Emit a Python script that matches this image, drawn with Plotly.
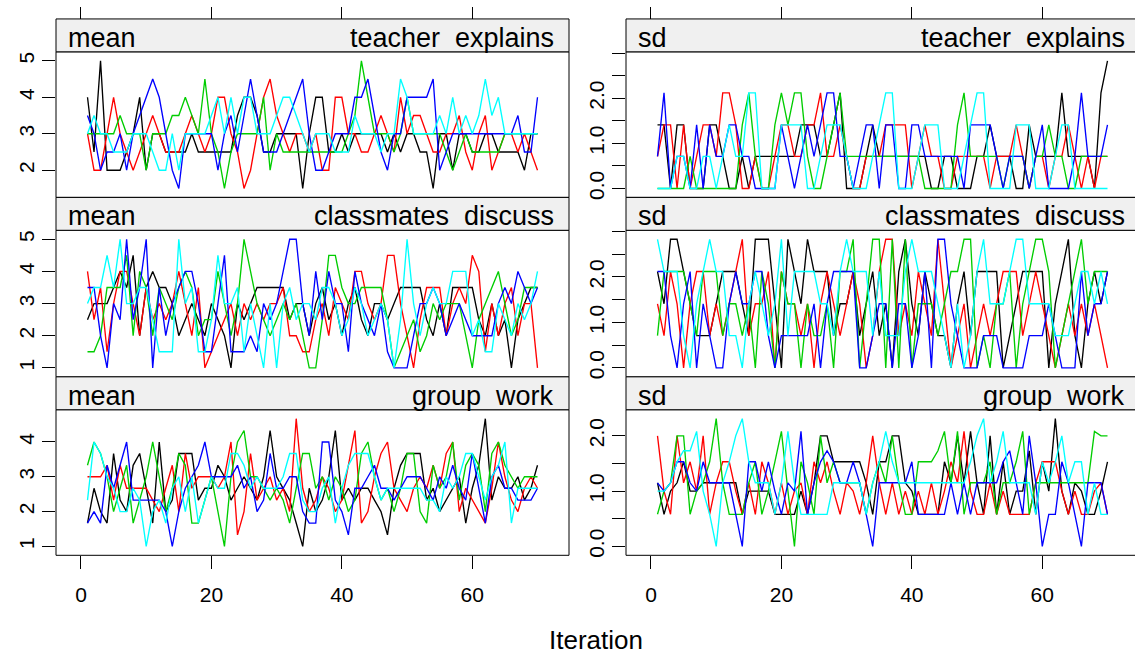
import plotly.graph_objects as go

# ---------------- data ----------------
iterations = list(range(1, 71))
chain_colors = ["#000000", "#FF0000", "#00CD00", "#0000FF", "#00FFFF"]
stat_labels = ["mean", "sd"]
var_labels = ["teacher\u00a0\u00a0explains", "classmates\u00a0\u00a0discuss", "group\u00a0\u00a0work"]
x_tick_vals = [0, 20, 40, 60]

te_mean = [
    [4, 2.5, 5, 2, 2, 2, 2.5, 3, 4, 2, 3, 3, 2.5, 2.5, 2.5, 2.5, 3, 2.5, 2.5, 2.5,
     2.5, 2.5, 2.5, 3.5, 4, 4, 3.5, 2.5, 2.5, 3, 3, 3, 3, 1.5, 3, 4, 4, 2.5, 2.5, 3,
     2.5, 3, 3, 3, 3, 3, 2.5, 3, 2.5, 3, 3, 2.5, 2.5, 1.5, 3, 3, 2, 3, 3, 2.5,
     2.5, 3, 3, 2.5, 2.5, 2.5, 2.5, 2, 3, 3],
    [3, 2, 2, 3, 4, 3, 2.5, 2, 2.5, 3, 3.5, 3, 2.5, 2.5, 2.5, 3, 3.5, 3, 2.5, 3,
     4, 4, 3, 2.5, 1.5, 2, 3, 4, 4.5, 3.5, 3, 2.5, 3, 3, 2.5, 3, 2, 2, 4, 4,
     3, 3, 2.5, 2.5, 3, 3.5, 3, 2.5, 4, 3, 3.5, 3.5, 3, 2.5, 2.5, 3, 3, 3.5, 2.5, 2,
     3, 3.5, 2, 2.5, 3, 3, 2.5, 3, 2.5, 2],
    [3, 3, 3, 3, 3, 3.5, 3, 3, 3, 2, 3, 3, 3, 3.5, 3.5, 4, 3.5, 3, 4.5, 3,
     2.5, 1.5, 2.5, 3, 3, 3, 3, 4, 2, 3, 2.5, 2.5, 2.5, 2.5, 2.5, 2.5, 2.5, 2.5, 2.5, 2.5,
     3, 3.5, 5, 4, 3, 3, 3, 2.5, 3, 4, 3, 3, 3, 3, 3, 2.5, 2, 2.5, 3, 2.5,
     2.5, 2.5, 2.5, 2.5, 3, 3, 3, 3, 3, 3],
    [3.5, 3, 2, 2.5, 2.5, 3, 2, 3, 3.5, 4, 4.5, 4, 3, 2, 1.5, 3, 3, 3, 3, 3,
     2, 3, 3.5, 2.5, 3.5, 4.5, 3.5, 2.5, 2.5, 2.5, 3, 3.5, 4, 4.5, 3, 2, 2, 2.5, 3, 3,
     3, 4, 4, 4.5, 3.5, 2.5, 2, 3, 3, 4, 4, 4, 4, 4.5, 2, 2.5, 3, 3, 3, 3,
     3, 3, 3, 3, 3, 3, 3.5, 2.5, 2.5, 4],
    [3, 3.5, 3, 3, 2.5, 2.5, 2.5, 3, 3, 3, 2.5, 2, 2, 3, 2, 3, 3, 3, 3, 3.5,
     4, 3, 4, 3, 4, 4, 3, 3, 3, 3.5, 4, 4, 3.5, 3, 2.5, 3, 3, 3, 2.5, 2.5,
     2.5, 3.5, 3, 3, 3, 2.5, 3, 3, 4.5, 4, 3, 3, 3, 3, 3.5, 3, 4, 3, 3.5, 3,
     3.5, 4.5, 3.5, 4, 3, 3, 3, 3, 3, 3],
]

te_sd = [
    [1.41, 1.41, 0, 1.41, 1.41, 0, 0, 0, 1.41, 1.41, 0.71, 0, 0, 0.71, 0, 0.71, 0.71, 0.71, 0.71, 0.71,
     0.71, 0.71, 1.41, 1.41, 1.41, 0.71, 0.71, 1.41, 2.12, 0, 0, 0, 0.71, 1.41, 0.71, 0.71, 0.71, 0.71, 0.71, 0.71,
     0.71, 0.71, 0, 0, 0.71, 0.71, 0, 0, 0, 0.71, 0.71, 1.41, 0.71, 0.71, 0.71, 0, 0, 1.41, 0.71, 0.71,
     0.71, 0.71, 2.12, 0.71, 0.71, 0.71, 0.71, 0, 2.12, 2.83],
    [0.71, 1.41, 1.41, 0, 1.41, 0, 0.71, 1.41, 1.41, 0.71, 2.12, 2.12, 1.41, 0, 0, 0.71, 0, 0, 0.71, 1.41,
     1.41, 0.71, 0.71, 1.41, 1.41, 2.12, 0.71, 0.71, 1.41, 0.71, 0, 0, 0.71, 0.71, 0.71, 1.41, 1.41, 1.41, 1.41, 0,
     0.71, 1.41, 0.71, 0.71, 0, 0, 0.71, 0.71, 0.71, 0.71, 0.71, 0, 0.71, 0.71, 0.71, 1.41, 0.71, 0, 0.71, 0.71,
     0, 0.71, 0.71, 1.41, 0.71, 0, 0.71, 0, 0.71, 0.71],
    [0, 0, 0, 0, 0, 0.71, 0, 0, 0, 0, 0, 0, 0, 1.41, 2.12, 0.71, 0, 0, 1.41, 2.12,
     1.41, 2.12, 2.12, 0.71, 0, 0, 0.71, 1.41, 2.12, 0.71, 0.71, 0.71, 0.71, 0.71, 0.71, 0.71, 0.71, 0.71, 0.71, 0.71,
     0.71, 0, 0, 0, 0, 0, 1.41, 2.12, 0.71, 0.71, 0.71, 0.71, 0.71, 0, 0.71, 0.71, 0.71, 0, 0.71, 0.71,
     1.41, 0.71, 0.71, 0, 0, 0.71, 0.71, 0.71, 0.71, 0.71],
    [0.71, 2.12, 0, 0.71, 0.71, 0, 1.41, 0, 1.41, 0.71, 0.71, 1.41, 1.41, 0.71, 0.71, 0, 0, 0, 0, 1.41,
     0.71, 0, 0.71, 1.41, 0.71, 1.41, 2.12, 2.12, 0.71, 0.71, 0, 0.71, 1.41, 1.41, 0, 1.41, 1.41, 0, 0, 1.41,
     1.41, 0.71, 0.71, 0.71, 0.71, 0.71, 0.71, 0, 1.41, 1.41, 1.41, 1.41, 0.71, 0, 0.71, 0.71, 0.71, 0, 0.71, 1.41,
     0, 0, 0, 0, 0.71, 2.12, 0.71, 0.71, 0.71, 1.41],
    [0, 0, 0, 0.71, 0.71, 0, 0, 0.71, 0.71, 0, 0.71, 1.41, 0.71, 0.71, 2.12, 2.12, 0, 0, 0, 1.41,
     1.41, 1.41, 1.41, 0, 0, 0.71, 1.41, 1.41, 1.41, 0.71, 0, 0, 0, 0.71, 1.41, 2.12, 2.12, 0, 0, 0,
     0.71, 1.41, 1.41, 1.41, 0, 0, 0, 0.71, 1.41, 2.12, 2.12, 0, 0, 0, 0, 1.41, 1.41, 1.41, 0, 0,
     0, 0.71, 1.41, 1.41, 0, 0, 0, 0, 0, 0],
]

cd_mean = [
    [2.5, 3, 3, 3, 3.5, 4, 3.5, 4.5, 2, 3.5, 4, 3.5, 3.5, 3, 2, 2.5, 3, 2.5, 2, 3,
     2.5, 2, 1, 3, 2.5, 3, 3.5, 3.5, 3.5, 3.5, 3.5, 2.5, 3, 3, 2, 3, 3.5, 2.5, 3, 2,
     3, 3.5, 2.5, 2, 3, 3, 2.5, 3, 3.5, 3.5, 3.5, 3.5, 2.5, 2, 3, 2, 3.5, 3.5, 3.5, 3.5,
     2.5, 2, 3, 2, 2.5, 1, 2.5, 3, 3.5, 3.5],
    [4, 2.5, 3.5, 1.5, 3, 4, 4, 3, 2, 3.5, 2.5, 3, 2.5, 3, 4, 3, 2, 3.5, 1, 1.5,
     2, 2.5, 3, 2, 3, 2.5, 3, 2.5, 3, 3, 3.5, 2, 2, 1.5, 1.5, 2.5, 3, 2, 3.5, 3,
     2.5, 4, 4, 3, 2.5, 3, 4.5, 4.5, 3, 2, 1, 2.5, 3.5, 3.5, 3.5, 2, 3, 3.5, 3, 4.5,
     4, 1.5, 3, 2, 3, 3.5, 2, 3, 3, 1],
    [1.5, 1.5, 2, 3.5, 3.5, 3.5, 4.5, 2, 4, 3.5, 2, 3.5, 3, 2.5, 3.5, 4, 3.5, 2, 2.5, 2.5,
     4, 3, 2, 3, 5, 4, 3, 2.5, 2, 2.5, 3, 2.5, 3, 2, 1, 1, 2.5, 4.5, 4.5, 3.5,
     3, 3, 3.5, 3.5, 3.5, 3.5, 2.5, 1, 1.5, 2, 2.5, 1.5, 2, 3, 2.5, 3, 3, 3, 2, 1,
     2.5, 3, 3.5, 4, 3, 2, 2.5, 3.5, 3.5, 3.5],
    [3.5, 3.5, 2, 1, 3, 2.5, 5, 2.5, 3.5, 5, 1, 3.5, 2, 3, 3.5, 4, 4, 3, 1.5, 1.5,
     3, 4.5, 1.5, 1.5, 1.5, 2, 1.5, 3, 2.5, 3, 4, 5, 5, 3, 2, 4, 2.5, 4, 3, 3,
     1.5, 4, 3, 2.5, 2, 3, 1.5, 1, 1, 1, 2, 3, 3, 3.5, 3, 2, 2.5, 3, 2.5, 2,
     2, 2, 2, 3, 3.5, 3, 4, 3.5, 3, 3.5],
    [3, 3.5, 3.5, 4.5, 3.5, 5, 3, 3, 3.5, 3.5, 2.5, 1.5, 1.5, 1.5, 5, 3, 3.5, 1.5, 1.5, 2.5,
     4.5, 3, 3, 3.5, 1.5, 3, 2, 1, 3, 1, 3, 3.5, 2.5, 3, 3, 2.5, 3.5, 3.5, 3, 2,
     2.5, 3.5, 3, 2, 2.5, 3, 2.5, 1, 2.5, 5, 3, 2, 3, 3.5, 3, 3, 4, 4, 4, 2,
     2.5, 1.5, 1.5, 3, 2.5, 2, 3, 2.5, 3, 4],
]

cd_sd = [
    [2.12, 1.41, 2.83, 2.83, 2.12, 1.41, 0.71, 0.71, 0.71, 1.41, 2.12, 2.12, 2.12, 1.41, 0.71, 2.83, 2.83, 2.83, 1.41, 0,
     2.83, 2.12, 1.41, 2.83, 2.12, 2.12, 2.12, 0.71, 1.41, 1.41, 2.12, 0.71, 1.41, 2.12, 0.71, 1.41, 0, 2.12, 2.83, 1.41,
     0.71, 2.12, 1.41, 0.71, 0.71, 0, 1.41, 2.12, 0.71, 2.12, 2.12, 2.12, 2.12, 0, 0.71, 1.41, 2.12, 2.12, 2.12, 2.12,
     0, 1.41, 2.12, 2.83, 0.71, 0, 1.41, 2.12, 1.41, 2.12],
    [1.41, 0.71, 2.12, 1.41, 0, 1.41, 2.12, 2.12, 0.71, 1.41, 0.71, 1.41, 2.12, 2.83, 0.71, 1.41, 1.41, 2.12, 0, 2.12,
     1.41, 1.41, 0.71, 1.41, 0, 1.41, 2.12, 1.41, 0.71, 1.41, 2.12, 1.41, 0, 0.71, 2.12, 2.83, 2.83, 0.71, 1.41, 0.71,
     2.12, 1.41, 0.71, 2.83, 1.41, 0, 0.71, 1.41, 0, 0.71, 1.41, 0.71, 1.41, 2.12, 2.12, 2.12, 0.71, 1.41, 2.12, 1.41,
     0.71, 0, 0.71, 1.41, 0.71, 1.41, 0.71, 1.41, 0.71, 0],
    [0.71, 2.12, 2.12, 2.12, 2.12, 1.41, 0.71, 2.12, 2.12, 2.12, 0.71, 1.41, 1.41, 0.71, 1.41, 0, 2.12, 1.41, 0, 2.12,
     1.41, 1.41, 0, 1.41, 0.71, 0.71, 1.41, 0, 2.12, 2.12, 2.83, 0, 1.41, 2.83, 2.83, 0, 2.83, 0, 2.83, 0,
     1.41, 1.41, 1.41, 0.71, 1.41, 2.12, 2.12, 2.83, 2.83, 0, 0.71, 0, 1.41, 1.41, 2.12, 0, 1.41, 2.12, 2.83, 2.83,
     2.12, 0, 0.71, 1.41, 2.12, 2.83, 1.41, 2.12, 2.12, 2.12],
    [2.12, 2.12, 0.71, 0, 1.41, 2.12, 0, 1.41, 0.71, 0, 0, 1.41, 2.12, 1.41, 1.41, 2.12, 2.12, 0.71, 0, 0.71,
     0.71, 0.71, 0.71, 0.71, 1.41, 0, 1.41, 2.12, 2.12, 2.12, 2.12, 0, 0, 0.71, 1.41, 1.41, 0, 1.41, 1.41, 0,
     0.71, 2.12, 0, 2.83, 2.83, 1.41, 0.71, 0, 0, 0, 0.71, 0.71, 0.71, 0, 0, 0, 0, 0.71, 0.71, 0.71,
     1.41, 0.71, 0, 0, 0, 2.12, 0.71, 1.41, 1.41, 2.12],
    [2.83, 2.12, 2.12, 2.12, 0.71, 0, 1.41, 2.12, 2.83, 2.12, 2.12, 0.71, 0.71, 0, 1.41, 2.12, 1.41, 0.71, 1.41, 2.83,
     0.71, 2.12, 2.12, 2.12, 2.12, 1.41, 1.41, 0.71, 2.12, 2.83, 2.12, 2.12, 2.12, 0.71, 2.12, 0.71, 0.71, 0.71, 2.12, 2.83,
     2.12, 2.12, 2.12, 1.41, 0.71, 0, 1.41, 0, 0.71, 2.12, 2.83, 1.41, 1.41, 1.41, 2.12, 2.83, 2.83, 1.41, 1.41, 1.41,
     1.41, 0.71, 0.71, 0.71, 1.41, 2.12, 2.12, 1.41, 2.12, 1.41],
]

gw_mean = [
    [1.67, 2.67, 2, 1.67, 3.67, 2.33, 2, 3.33, 3.67, 2.67, 1.67, 4, 2, 2.33, 3.67, 3.67, 3.67, 2.33, 2.67, 2.67,
     3.33, 3, 2.33, 2.67, 3, 2.67, 2.33, 3, 4.33, 3, 2.67, 2.33, 1.67, 1, 2.67, 2, 2.33, 3, 4.33, 2.33,
     2.67, 2.33, 2.67, 2.67, 2.33, 2, 1.33, 2.67, 3.33, 3.67, 3.67, 3.67, 2.33, 2.67, 2, 2.33, 2.67, 3, 1.67, 2.67,
     3.33, 4.67, 2.33, 3, 2.67, 2.67, 3, 2.33, 2.67, 3.33],
    [3, 3, 3, 3.33, 2.33, 3.33, 2.67, 2.67, 2.67, 2.67, 2.33, 2, 2.67, 3.33, 2, 3.67, 2.67, 3, 3, 3,
     2.67, 3, 4, 1.33, 2, 3.67, 2.33, 2.67, 3, 2.33, 2.67, 2, 4.67, 2.67, 2, 2.33, 3, 2.67, 2, 2.33,
     3.33, 4.33, 1.67, 2, 3, 3.67, 4, 2.67, 2.33, 2, 2.67, 3, 2.67, 3.33, 2.67, 3.67, 4, 2, 2.67, 2.33,
     2, 1.67, 2.67, 4, 3, 2.33, 2, 2.67, 3, 2.67],
    [3.33, 4, 3.67, 3, 2, 2.67, 3.33, 1.67, 2.33, 3, 4, 3, 2, 2.67, 3.67, 3.33, 1.67, 1.67, 2.33, 3,
     2, 1, 3, 4, 4.33, 3, 3, 2.67, 2.33, 2.67, 2.33, 1.67, 2.67, 3.67, 3.67, 2.67, 3, 2.33, 3, 2.67,
     2, 2.33, 3.67, 4, 3, 2.33, 2.67, 2, 2.67, 3.67, 3.67, 2, 1.67, 3.33, 2.67, 3, 4, 2.33, 3.33, 3.67,
     3.33, 2, 3.67, 4, 3.33, 3, 2.67, 3, 3, 3],
    [1.67, 2, 1.67, 3.33, 2.67, 3.33, 4, 2.33, 2.33, 2.33, 2.33, 2.33, 2, 1, 2, 2.67, 3, 3.33, 4, 3,
     3, 3, 3, 3.33, 2.67, 3, 2, 2.33, 3.67, 2.67, 2.67, 3, 3, 2, 1.67, 1.67, 4, 4, 2.33, 2,
     1.33, 2.67, 2.67, 3, 3.33, 2.67, 2.67, 2.33, 2.67, 3, 3, 3, 2.67, 2.33, 3, 2.67, 3.33, 2.67, 2.33, 3.67,
     2.67, 1.67, 3, 3.33, 2.67, 2.67, 2.33, 2.33, 2.33, 2.67],
    [2.33, 4, 3.67, 3, 2.67, 2, 2, 2.67, 2.33, 1, 2, 2.33, 1.67, 2.67, 3, 2, 3, 1.67, 2.33, 3,
     2.67, 2.67, 3.67, 3.67, 3.33, 2.67, 3, 2.67, 2.67, 2.67, 3, 3.67, 3.67, 2.33, 2, 2, 2.67, 3, 1.67, 2.67,
     3.33, 3.67, 3.67, 3.67, 3, 2.33, 2.67, 2.67, 2.67, 2.67, 2.67, 2.67, 2.33, 2.33, 2, 3, 2.67, 3, 3.67, 3.67,
     3, 2.33, 3, 3.33, 4, 1.67, 2.67, 2.67, 2.67, 2.67],
]

gw_sd = [
    [1.15, 0.58, 1, 1.15, 1.53, 1, 1, 1.15, 1.15, 1.15, 1.15, 1.15, 1.15, 0.58, 1, 1, 1, 1, 0.58, 0.58,
     0.58, 0.58, 1, 0.58, 1.15, 2, 2, 1.53, 1.53, 1.53, 1.53, 1.53, 1.15, 0.58, 1.53, 1.53, 2, 2, 1.15, 1,
     0.58, 0.58, 0.58, 0.58, 1.53, 1.15, 2, 1.15, 2.08, 1.15, 0.58, 2, 0.58, 1.53, 0.58, 1, 1, 1.73, 0.58, 1.53,
     1, 2.31, 1, 0.58, 1.15, 1, 0.58, 0.58, 1, 1.53],
    [2, 1, 0.58, 2, 1.15, 1.53, 1, 2, 0.58, 1.15, 1.53, 1.53, 1, 0.58, 1.15, 0.58, 1.53, 1.15, 0.58, 1.15,
     0.58, 1, 1.15, 0.58, 1.53, 1.15, 1.53, 1, 0.58, 1.15, 1, 0.58, 1.15, 2, 1.15, 0.58, 1.15, 0.58, 1, 0.58,
     1, 0.58, 1.15, 0.58, 1, 1.53, 1.15, 2.08, 1, 0.58, 0.58, 1.15, 0.58, 1, 0.58, 0.58, 0.58, 0.58, 1.15, 1.53,
     1.53, 1.53, 1, 0.58, 1, 0.58, 0.58, 1, 1.15, 0.58],
    [0.58, 1, 1.15, 2, 2, 0.58, 1, 1.15, 1.53, 2.31, 1.15, 0.58, 0.58, 0.58, 1.15, 1.53, 0.58, 1, 1.53, 2.08,
     1, 0, 1.53, 1.15, 0.58, 2, 1.15, 1.53, 1.15, 1.15, 1.15, 1.15, 0.58, 1.15, 1.53, 1.15, 2, 1.15, 0.58, 0.58,
     1.53, 1.53, 1.53, 1.73, 2.08, 1.15, 2.08, 0.58, 1.15, 1.15, 1.15, 1.53, 0.58, 1.15, 1.15, 1.53, 2.08, 0.58, 1.15, 1.15,
     1.15, 1.15, 1.15, 1.15, 1.15, 1.15, 1.15, 2.08, 2, 2],
    [1.15, 1, 1.15, 1.53, 1.53, 1.15, 1, 1.53, 1.15, 1.15, 1.15, 1.15, 0.58, 0, 1.53, 1.53, 1, 1.53, 1, 0.58,
     1.15, 1, 2.08, 0.58, 1.15, 1.53, 1.73, 1.53, 1.15, 1.15, 1.53, 1.15, 0.58, 0, 1.15, 1.15, 1.15, 1.15, 1.15, 1.53,
     0.58, 0.58, 0.58, 0.58, 0.58, 1.15, 0.58, 1.15, 0.58, 1.15, 1.15, 1.15, 1.15, 1.53, 1.73, 1.15, 0.58, 2, 1.15, 0,
     0.58, 0.58, 1.53, 1.15, 0.58, 0, 1.15, 1.15, 1.15, 0.58],
    [1, 1, 1.15, 1.53, 1.73, 1.73, 2.08, 1, 0.58, 0, 1.15, 1.53, 2, 2.31, 1.53, 1.15, 1.15, 1.15, 0.58, 1.15,
     2.08, 1.15, 0.58, 0.58, 0.58, 0.58, 0.58, 1.15, 1.15, 1.15, 1.15, 1.15, 0.58, 1.15, 1.53, 2.08, 1.53, 1.15, 1.15, 1.15,
     1.15, 1.15, 1.15, 1.15, 1.15, 1.15, 1.15, 1.15, 1.53, 2, 2.31, 1.15, 1.53, 2.08, 1.15, 1.15, 1.15, 1.15, 0.58, 1.53,
     1.15, 1.53, 2, 1.15, 1.53, 1.53, 0.58, 1.15, 0.58, 0.58],
]

mean_y_ticks = [[2, 3, 4, 5], [1, 2, 3, 4, 5], [1, 2, 3, 4]]
sd_y_ticks = [[0, 0.5, 1, 1.5, 2, 2.5, 3], [0, 0.5, 1, 1.5, 2, 2.5, 3], [0, 0.5, 1, 1.5, 2]]
sd_y_ticktext = [["0.0", "", "1.0", "", "2.0", "", ""], ["0.0", "", "1.0", "", "2.0", "", ""],
                 ["0.0", "", "1.0", "", "2.0"]]

for name, arr in [("te_mean", te_mean), ("te_sd", te_sd), ("cd_mean", cd_mean),
                  ("cd_sd", cd_sd), ("gw_mean", gw_mean), ("gw_sd", gw_sd)]:
    assert all(len(c) == 70 for c in arr), (name, [len(c) for c in arr])

# ---------------- layout geometry (pixels) ----------------
W, H = 1135, 655
FONT = "Liberation Sans, Arial, sans-serif"
col_px = [(56, 569), (626, 1139.6)]
row_px = [(52, 198), (231, 378), (411, 557)]
strip_px = [(19, 52), (198, 231), (378, 411)]


def px_x(p):
    return p / W


def px_y(p):
    return 1 - p / H


def ext(lo, hi, f=0.07):
    d = (hi - lo) * f
    return [lo - d, hi + d]


x_full = ext(1, 70)
px_per_unit = (col_px[0][1] - col_px[0][0]) / (x_full[1] - x_full[0])

panels = []
data_rows = [(te_mean, te_sd), (cd_mean, cd_sd), (gw_mean, gw_sd)]
for r in range(3):
    for c in range(2):
        arr = data_rows[r][c]
        lo = min(min(ch) for ch in arr)
        hi = max(max(ch) for ch in arr)
        if c == 0:
            tv, tt = mean_y_ticks[r], [str(v) for v in mean_y_ticks[r]]
        else:
            tv, tt = sd_y_ticks[r], sd_y_ticktext[r]
        panels.append(dict(row=r, col=c, data=arr, yr=ext(lo, hi), tv=tv, tt=tt,
                           stat=stat_labels[c], var=var_labels[r]))

fig = go.Figure()
shapes = []
annotations = []
layout_axes = {}

for k, p in enumerate(panels, start=1):
    r, c = p["row"], p["col"]
    xs = "" if k == 1 else str(k)
    x0p, x1p = col_px[c]
    y0p, y1p = row_px[r]
    dom_x1 = min(x1p, W)
    xr = [x_full[0], x_full[0] + (dom_x1 - x0p) / px_per_unit]

    for ci, ch in enumerate(p["data"]):
        fig.add_trace(go.Scatter(x=iterations, y=ch, mode="lines",
                                 line=dict(color=chain_colors[ci], width=1.35),
                                 xaxis="x" + xs, yaxis="y" + xs,
                                 showlegend=False, hoverinfo="skip"))

    xa = dict(domain=[px_x(x0p), px_x(dom_x1)], range=xr, showgrid=False, zeroline=False,
              showline=False, tickvals=x_tick_vals, tickcolor="black", tickwidth=1,
              tickfont=dict(family=FONT, size=21, color="black"))
    if r == 0:
        xa.update(anchor="free", position=px_y(strip_px[0][0]), side="top",
                  ticks="outside", ticklen=12, showticklabels=False)
    elif r == 1:
        xa.update(anchor="y" + xs, ticks="", showticklabels=False)
    else:
        xa.update(anchor="y" + xs, ticks="outside", ticklen=13, showticklabels=True,
                  ticklabelstandoff=8)
    layout_axes["xaxis" + xs] = xa

    layout_axes["yaxis" + xs] = dict(
        domain=[px_y(y1p), px_y(y0p)], range=p["yr"], anchor="x" + xs,
        showgrid=False, zeroline=False, showline=False,
        tickvals=p["tv"], ticktext=p["tt"], ticks="outside", ticklen=13,
        tickcolor="black", tickwidth=1, tickangle=-90,
        tickfont=dict(family=FONT, size=21, color="black"))

    # panel frame
    shapes.append(dict(type="rect", xref="paper", yref="paper",
                       x0=px_x(x0p), x1=px_x(x1p), y0=px_y(y1p), y1=px_y(y0p),
                       line=dict(color="black", width=1), fillcolor="rgba(0,0,0,0)"))
    # strip
    s0, s1 = strip_px[r]
    shapes.append(dict(type="rect", xref="paper", yref="paper",
                       x0=px_x(x0p), x1=px_x(x1p), y0=px_y(s1), y1=px_y(s0),
                       line=dict(color="black", width=1), fillcolor="#F0F0F0"))
    annotations.append(dict(xref="paper", yref="paper", x=px_x(x0p + 10), y=px_y((s0 + s1) / 2 + 2.5),
                            xanchor="left", yanchor="middle", text=p["stat"], showarrow=False,
                            font=dict(family=FONT, size=27, color="black")))
    annotations.append(dict(xref="paper", yref="paper", x=px_x(x1p - 13), y=px_y((s0 + s1) / 2 + 2.5),
                            xanchor="right", yanchor="middle", text=p["var"], showarrow=False,
                            font=dict(family=FONT, size=27, color="black")))

annotations.append(dict(xref="paper", yref="paper", x=px_x(596), y=px_y(642),
                        xanchor="center", yanchor="middle", text="Iteration", showarrow=False,
                        font=dict(family=FONT, size=26, color="black")))

fig.update_layout(width=W, height=H, autosize=False,
                  margin=dict(l=0, r=0, t=0, b=0, pad=0),
                  paper_bgcolor="white", plot_bgcolor="white",
                  shapes=shapes, annotations=annotations, **layout_axes)

fig.write_html("out.html", config={"displayModeBar": False},
               post_script="document.body.style.margin='0px';document.body.style.overflow='hidden';")
